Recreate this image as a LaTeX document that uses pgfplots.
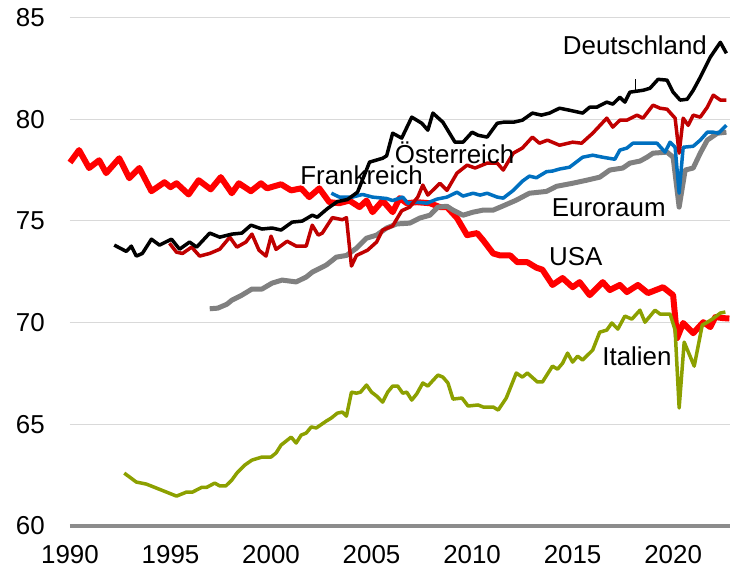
\documentclass[border=0pt]{standalone}
\usepackage{pgfplots}
\pgfplotsset{compat=1.18}
\usepackage{fontspec}
\setmainfont{Liberation Sans}
\definecolor{usared}{RGB}{255,0,0}
\definecolor{atred}{RGB}{192,0,0}
\definecolor{frblue}{RGB}{0,112,192}
\definecolor{eugray}{RGB}{128,128,128}
\definecolor{itolive}{RGB}{140,160,0}
\definecolor{gridgray}{RGB}{217,217,217}
\definecolor{axgray}{RGB}{140,140,140}
\begin{document}
\fontsize{26}{30}\selectfont
\begin{tikzpicture}
\begin{axis}[
  scale only axis,
  width=660bp, height=508.5bp,
  xmin=1990, xmax=2022.83,
  ymin=60, ymax=85,
  xtick={1990,1995,...,2020},
  ytick={60,65,...,85},
  axis line style={draw=none},
  major tick length=0pt,
  ymajorgrids,
  grid style={gridgray, line width=1.2bp},
  /pgf/number format/assume math mode=true,
  /pgf/number format/1000 sep={},
  tick label style={font=\fontsize{26}{30}\selectfont},
  yticklabel style={inner sep=0pt, anchor=east, xshift=-25bp},
  xticklabel style={inner sep=0pt, anchor=north, yshift=-19bp},
  clip=false,
  line join=round,
]
\coordinate (ll) at (rel axis cs:0,0);
\coordinate (ur) at (rel axis cs:1,1);
\draw[axgray, line width=3.5bp] (rel axis cs:0,0) -- (rel axis cs:1,0);

% USA
\addplot[usared, line width=6bp, no markers] coordinates {
(1990.0,77.87)(1990.45,78.48)(1990.95,77.6)(1991.45,77.98)(1991.8,77.35)(1992.45,78.08)(1992.95,77.1)(1993.45,77.6)(1994.05,76.46)(1994.7,76.9)(1995.0,76.66)(1995.3,76.85)(1995.9,76.3)(1996.4,77.0)(1997.0,76.55)(1997.5,77.15)(1998.05,76.36)(1998.4,76.85)(1999.0,76.46)(1999.5,76.85)(1999.8,76.6)(2000.5,76.8)(2001.0,76.5)(2001.5,76.6)(2001.9,76.17)(2002.4,76.6)(2002.9,75.92)(2003.4,75.87)(2003.9,76.0)(2004.4,75.68)(2004.75,76.0)(2005.05,75.43)(2005.55,76.0)(2006.05,75.43)(2006.4,76.12)(2006.75,75.87)(2007.25,75.92)(2007.9,75.87)(2008.4,75.68)(2008.75,75.68)(2009.25,75.14)(2009.75,74.3)(2010.25,74.4)(2010.55,74.05)(2011.05,73.4)(2011.4,73.3)(2011.9,73.3)(2012.25,72.97)(2012.75,72.97)(2013.2,72.7)(2013.5,72.6)(2014.0,71.85)(2014.5,72.19)(2015.0,71.74)(2015.35,71.99)(2015.85,71.35)(2016.5,71.99)(2016.85,71.6)(2017.35,71.85)(2017.7,71.5)(2018.25,71.85)(2018.75,71.45)(2019.5,71.74)(2020.0,71.35)(2020.2,69.24)(2020.5,69.98)(2021.0,69.48)(2021.5,70.02)(2021.85,69.78)(2022.1,70.27)(2022.5,70.22)(2022.8,70.2)
};

% Euroraum
\addplot[eugray, line width=5bp, no markers] coordinates {
(1996.95,70.68)(1997.35,70.71)(1997.8,70.9)(1998.05,71.1)(1998.55,71.35)(1999.05,71.65)(1999.55,71.65)(2000.05,71.94)(2000.55,72.09)(2001.25,72.0)(2001.75,72.24)(2002.05,72.48)(2002.75,72.83)(2003.25,73.22)(2003.75,73.3)(2004.25,73.66)(2004.75,74.15)(2005.25,74.3)(2005.75,74.65)(2006.25,74.85)(2006.9,74.89)(2007.4,75.14)(2007.9,75.28)(2008.3,75.68)(2008.75,75.72)(2009.05,75.53)(2009.55,75.28)(2010.05,75.43)(2010.55,75.53)(2011.05,75.53)(2011.55,75.74)(2012.2,76.02)(2012.85,76.36)(2013.7,76.45)(2014.2,76.7)(2015.0,76.85)(2015.7,77.0)(2016.35,77.15)(2016.85,77.5)(2017.5,77.6)(2017.85,77.84)(2018.35,77.94)(2018.7,78.13)(2019.0,78.33)(2019.7,78.38)(2020.0,78.13)(2020.3,75.68)(2020.6,77.5)(2021.0,77.6)(2021.35,78.33)(2021.7,78.97)(2022.2,79.31)(2022.65,79.36)
};

% Frankreich
\addplot[frblue, line width=3.5bp, no markers] coordinates {
(2003.0,76.36)(2003.4,76.17)(2004.05,76.17)(2004.55,76.3)(2005.05,76.17)(2005.75,76.1)(2006.05,76.0)(2006.4,76.12)(2006.55,76.17)(2006.8,75.87)(2007.25,75.92)(2007.75,75.87)(2008.25,76.07)(2008.75,76.17)(2009.25,76.41)(2009.55,76.22)(2010.05,76.36)(2010.4,76.27)(2010.75,76.36)(2011.25,76.17)(2011.55,76.12)(2012.05,76.5)(2012.5,76.95)(2012.85,77.2)(2013.2,77.12)(2013.7,77.42)(2014.0,77.45)(2014.35,77.55)(2014.85,77.64)(2015.5,78.13)(2016.0,78.23)(2016.5,78.13)(2017.1,78.03)(2017.35,78.48)(2017.7,78.58)(2018.0,78.82)(2018.85,78.82)(2019.2,78.82)(2019.6,78.38)(2019.85,78.87)(2020.1,78.62)(2020.3,76.36)(2020.5,78.62)(2021.0,78.67)(2021.35,78.97)(2021.7,79.36)(2022.0,79.36)(2022.25,79.31)(2022.65,79.7)
};

% Oesterreich
\addplot[atred, line width=3.5bp, no markers] coordinates {
(1994.95,73.9)(1995.3,73.46)(1995.6,73.4)(1996.05,73.71)(1996.45,73.27)(1996.95,73.4)(1997.45,73.61)(1997.95,74.2)(1998.3,73.71)(1998.75,73.96)(1999.05,74.35)(1999.4,73.56)(1999.75,73.27)(2000.0,74.25)(2000.25,73.6)(2000.8,74.0)(2001.25,73.76)(2001.75,73.76)(2002.05,74.79)(2002.35,74.3)(2002.55,74.4)(2003.05,75.16)(2003.55,75.06)(2003.75,75.16)(2004.0,72.78)(2004.25,73.3)(2004.8,73.56)(2005.25,73.96)(2005.55,74.55)(2006.05,74.75)(2006.5,75.5)(2006.9,75.68)(2007.3,76.17)(2007.55,76.76)(2007.8,76.27)(2008.4,76.85)(2008.75,76.5)(2009.25,77.35)(2009.75,77.74)(2010.15,77.6)(2010.75,77.84)(2011.25,77.84)(2011.55,77.5)(2012.05,78.33)(2012.5,78.58)(2013.0,79.12)(2013.35,78.82)(2013.75,78.97)(2014.35,78.72)(2015.0,78.87)(2015.45,78.82)(2016.0,79.31)(2016.7,80.05)(2017.0,79.61)(2017.35,79.95)(2017.7,79.95)(2018.2,80.2)(2018.5,80.05)(2019.0,80.69)(2019.35,80.54)(2019.7,80.49)(2020.1,80.05)(2020.3,78.33)(2020.5,80.05)(2020.75,79.7)(2021.0,80.2)(2021.35,80.1)(2021.7,80.59)(2022.0,81.18)(2022.35,80.94)(2022.65,80.94)
};

% Italien
\addplot[itolive, line width=3.5bp, no markers] coordinates {
(1992.7,62.6)(1993.3,62.16)(1993.55,62.11)(1993.8,62.06)(1995.3,61.47)(1995.8,61.67)(1996.1,61.67)(1996.55,61.9)(1996.8,61.9)(1997.2,62.11)(1997.45,61.97)(1997.75,61.97)(1998.05,62.26)(1998.3,62.6)(1998.7,63.0)(1999.05,63.24)(1999.55,63.39)(2000.0,63.39)(2000.25,63.59)(2000.5,63.98)(2001.0,64.37)(2001.25,64.08)(2001.5,64.47)(2001.75,64.57)(2002.0,64.87)(2002.25,64.82)(2002.75,65.16)(2003.0,65.31)(2003.3,65.55)(2003.55,65.6)(2003.75,65.4)(2004.0,66.58)(2004.25,66.53)(2004.45,66.58)(2004.75,66.93)(2005.0,66.58)(2005.25,66.39)(2005.55,66.09)(2005.8,66.58)(2006.05,66.88)(2006.3,66.88)(2006.55,66.53)(2006.75,66.58)(2007.0,66.19)(2007.25,66.5)(2007.55,67.03)(2007.8,66.88)(2008.3,67.42)(2008.55,67.32)(2008.8,67.03)(2009.05,66.24)(2009.5,66.29)(2009.8,65.9)(2010.3,65.95)(2010.55,65.85)(2011.05,65.85)(2011.3,65.7)(2011.7,66.29)(2012.2,67.52)(2012.5,67.32)(2012.75,67.52)(2013.25,67.08)(2013.5,67.08)(2014.0,67.86)(2014.25,67.71)(2014.5,68.0)(2014.75,68.5)(2015.0,68.06)(2015.25,68.35)(2015.5,68.16)(2016.0,68.65)(2016.35,69.53)(2016.7,69.63)(2016.95,69.98)(2017.25,69.68)(2017.6,70.32)(2017.95,70.17)(2018.35,70.61)(2018.6,70.02)(2019.1,70.61)(2019.35,70.42)(2019.85,70.42)(2020.1,69.63)(2020.3,65.8)(2020.55,69.04)(2021.05,67.86)(2021.45,69.88)(2021.7,70.02)(2021.95,70.17)(2022.35,70.47)(2022.6,70.52)
};

% Deutschland
\addplot[black, line width=3.5bp, no markers] coordinates {
(1992.2,73.81)(1992.8,73.5)(1993.05,73.76)(1993.3,73.27)(1993.6,73.4)(1994.05,74.1)(1994.45,73.81)(1995.05,74.1)(1995.45,73.61)(1995.95,73.96)(1996.3,73.71)(1996.95,74.4)(1997.45,74.2)(1998.05,74.35)(1998.55,74.4)(1999.0,74.79)(1999.55,74.6)(2000.05,74.65)(2000.5,74.55)(2001.05,74.94)(2001.55,74.99)(2002.05,75.28)(2002.3,75.18)(2002.8,75.6)(2003.3,75.95)(2003.8,76.05)(2004.3,76.41)(2004.9,77.89)(2005.55,78.08)(2005.75,78.2)(2006.05,79.31)(2006.5,79.07)(2007.0,80.1)(2007.5,79.8)(2007.8,79.46)(2008.05,80.3)(2008.55,79.85)(2009.15,78.87)(2009.55,78.87)(2010.0,79.36)(2010.3,79.21)(2010.75,79.12)(2011.25,79.8)(2011.55,79.85)(2012.05,79.85)(2012.5,79.95)(2013.0,80.3)(2013.45,80.2)(2013.85,80.3)(2014.35,80.54)(2014.85,80.44)(2015.5,80.3)(2015.85,80.59)(2016.2,80.59)(2016.7,80.84)(2017.0,80.74)(2017.35,81.08)(2017.6,80.84)(2017.85,81.33)(2018.5,81.42)(2018.85,81.52)(2019.25,81.96)(2019.7,81.92)(2020.0,81.33)(2020.35,80.94)(2020.7,80.98)(2021.0,81.42)(2021.35,82.06)(2021.85,83.05)(2022.35,83.78)(2022.65,83.24)
};
\draw[black, line width=0.8bp] (axis cs:2018.1,81.35) -- (axis cs:2018.1,82.0);

\node[inner sep=0pt] at (axis cs:2018.1,83.64) {Deutschland};
\node[inner sep=0pt] at (axis cs:2009.13,78.33) {Österreich};
\node[inner sep=0pt] at (axis cs:2004.5,77.25) {Frankreich};
\node[inner sep=0pt] at (axis cs:2016.8,75.63) {Euroraum};
\node[inner sep=0pt] at (axis cs:2015.16,73.27) {USA};
\node[inner sep=0pt] at (axis cs:2018.2,68.35) {Italien};
\end{axis}
\pgfresetboundingbox
\path[use as bounding box] ([xshift=-70bp,yshift=-43bp]ll) rectangle ([xshift=1bp,yshift=17.5bp]ur);
\end{tikzpicture}
\end{document}
